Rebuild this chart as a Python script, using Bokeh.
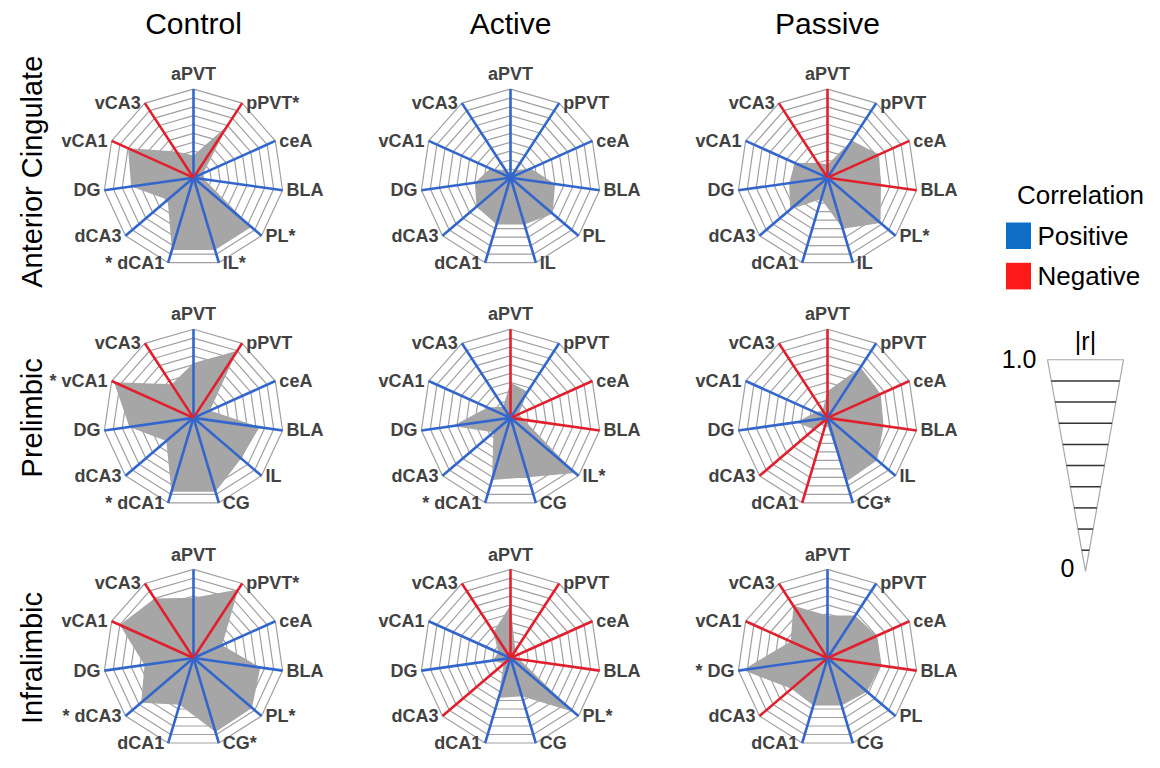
import numpy as np
from bokeh.plotting import figure
from bokeh.models import Range1d
from bokeh.embed import file_html
from bokeh.resources import INLINE
from bokeh.core.properties import value

# ---------------- data ----------------
groups = ["Control", "Active", "Passive"]
regions = ["Anterior Cingulate", "Prelimbic", "Infralimbic"]

acc_labels = ["aPVT", "pPVT", "ceA", "BLA", "PL", "IL", "dCA1", "dCA3", "DG", "vCA1", "vCA3"]
pl_labels = ["aPVT", "pPVT", "ceA", "BLA", "IL", "CG", "dCA1", "dCA3", "DG", "vCA1", "vCA3"]
il_labels = ["aPVT", "pPVT", "ceA", "BLA", "PL", "CG", "dCA1", "dCA3", "DG", "vCA1", "vCA3"]

# signed correlation r (sign -> spoke colour, |r| -> grey area)
acc_control = [0.25, -0.70, 0.12, 0.12, 0.85, 0.85, 0.85, 0.38, 0.70, -0.80, -0.35]
acc_active = [0.05, 0.10, 0.25, 0.50, 0.62, 0.55, 0.55, 0.50, 0.40, 0.25, 0.10]
acc_passive = [-0.15, 0.50, -0.63, -0.60, 0.78, 0.60, 0.25, 0.55, 0.43, 0.40, -0.20]

pl_control = [0.62, -0.90, 0.20, 0.74, 0.70, 0.87, 0.87, 0.40, 0.72, -0.97, -0.45]
pl_active = [-0.40, 0.35, -0.10, -0.15, 0.95, 0.70, 0.73, 0.25, 0.65, 0.28, 0.15]
pl_passive = [-0.30, 0.68, -0.65, -0.63, 0.73, 0.75, -0.05, -0.20, 0.35, 0.15, -0.10]

il_control = [0.68, -0.92, 0.35, 0.75, 0.86, 0.87, 0.55, 0.77, 0.55, -0.90, -0.80]
il_active = [-0.60, -0.10, -0.05, -0.10, 0.93, 0.45, 0.47, -0.10, 0.20, 0.15, -0.35]
il_passive = [0.48, 0.57, -0.60, -0.60, 0.58, 0.56, 0.56, -0.53, 0.95, -0.45, -0.70]

# significance stars: 0 none, 1 star after label, 2 star before label
acc_control_sig = [0, 1, 0, 0, 1, 1, 2, 0, 0, 0, 0]
acc_active_sig = [0] * 11
acc_passive_sig = [0, 0, 0, 0, 1, 0, 0, 0, 0, 0, 0]
pl_control_sig = [0, 0, 0, 0, 0, 0, 2, 0, 0, 2, 0]
pl_active_sig = [0, 0, 0, 0, 1, 0, 2, 0, 0, 0, 0]
pl_passive_sig = [0, 0, 0, 0, 0, 1, 0, 0, 0, 0, 0]
il_control_sig = [0, 1, 0, 0, 1, 1, 0, 2, 0, 0, 0]
il_active_sig = [0, 0, 0, 0, 1, 0, 0, 0, 0, 0, 0]
il_passive_sig = [0, 0, 0, 0, 0, 0, 0, 0, 2, 0, 0]

panels = [
    [(acc_labels, acc_control, acc_control_sig), (acc_labels, acc_active, acc_active_sig), (acc_labels, acc_passive, acc_passive_sig)],
    [(pl_labels, pl_control, pl_control_sig), (pl_labels, pl_active, pl_active_sig), (pl_labels, pl_passive, pl_passive_sig)],
    [(il_labels, il_control, il_control_sig), (il_labels, il_active, il_active_sig), (il_labels, il_passive, il_passive_sig)],
]

ring_levels = [0.1, 0.2, 0.3, 0.4, 0.5, 0.6, 0.7, 0.8, 0.9, 1.0]
legend_items = ["Positive", "Negative"]

# ---------------- style / layout ----------------
BLUE = "#3366cc"
RED = "#e0202e"
GREY_FILL = "#a6a6a6"
RING = "#a0a0a0"
LABEL = "#424242"
FONT = "Liberation Sans"
LFS = "18px"

col_x = [193, 510, 827]
row_y = [180, 424, 668]
R = 90

W, H = 1144, 752
p = figure(width=W, height=H, output_backend="svg", toolbar_location=None,
           x_range=Range1d(0, W), y_range=Range1d(764, 0),
           min_border=0, outline_line_color=None)
p.axis.visible = False
p.grid.visible = False
p.background_fill_color = "white"

N = 11
ang = np.arange(N) * 2 * np.pi / N


def polar(cx, cy, r, a):
    return cx + r * np.sin(a), cy - r * np.cos(a)


for ri, row in enumerate(panels):
    for ci, (labels, vals, sig) in enumerate(row):
        cx, cy = col_x[ci], row_y[ri]
        vals = np.array(vals)
        # rings
        xs, ys = [], []
        for lv in ring_levels:
            a = np.append(ang, ang[0])
            x, y = polar(cx, cy, R * lv, a)
            xs.append(list(x)); ys.append(list(y))
        p.multi_line(xs, ys, line_color=RING, line_width=1.2)
        # grey area
        x, y = polar(cx, cy, R * np.abs(vals), ang)
        p.patch(list(x), list(y), fill_color=GREY_FILL, line_color=None)
        # spokes
        ex, ey = polar(cx, cy, R, ang)
        colors = [BLUE if v >= 0 else RED for v in vals]
        p.segment(x0=[cx] * N, y0=[cy] * N, x1=list(ex), y1=list(ey),
                  line_color=colors, line_width=2.6)
        # labels
        texts = []
        for lab, s in zip(labels, sig):
            if s == 1:
                texts.append(lab + "*")
            elif s == 2:
                texts.append("* " + lab)
            else:
                texts.append(lab)
        lx, ly = polar(cx, cy, R + 15, ang)
        p.text(x=[lx[0]], y=[ly[0]], text=[texts[0]], text_align="center",
               text_baseline="middle", text_font=value(FONT), text_font_style="bold",
               text_font_size=LFS, text_color=LABEL)
        rx, ry = polar(cx, cy, R, ang)
        right = list(range(1, 6))
        left = list(range(6, 11))
        p.text(x=[rx[k] + 4 for k in right], y=[ry[k] for k in right],
               text=[texts[k] for k in right], text_align="left",
               text_baseline="middle", text_font=value(FONT), text_font_style="bold",
               text_font_size=LFS, text_color=LABEL)
        p.text(x=[rx[k] - 4 for k in left], y=[ry[k] for k in left],
               text=[texts[k] for k in left], text_align="right",
               text_baseline="middle", text_font=value(FONT), text_font_style="bold",
               text_font_size=LFS, text_color=LABEL)

# column titles
p.text(x=col_x, y=[23] * 3, text=groups, text_align="center", text_baseline="middle",
       text_font=value(FONT), text_font_size="30px", text_color="black")
# row titles
p.text(x=[31] * 3, y=[174, 424, 668], text=regions, angle=np.pi / 2, text_align="center",
       text_baseline="middle", text_font=value(FONT), text_font_size="29px",
       text_color="black")

# legend: correlation sign
p.text(x=[1080], y=[198], text=["Correlation"], text_align="center", text_baseline="middle",
       text_font=value(FONT), text_font_size="26px", text_color="black")
sq_y = [239, 280]
p.rect(x=[1018, 1018], y=sq_y, width=25, height=27, fill_color=["#0f6ec6", "#ff1a1a"],
       line_color=None)
p.text(x=[1037, 1037], y=sq_y, text=legend_items, text_align="left", text_baseline="middle",
       text_font=value(FONT), text_font_size="26px", text_color="black")

# legend: |r| scale
tx, top_y, apex_y, half = 1085, 365, 580, 38
p.patch([tx - half, tx + half, tx], [top_y, top_y, apex_y], fill_color="white",
        line_color="#a8a8a8", line_width=1.2)
lv = np.array(ring_levels[:-1])
yy = apex_y - (apex_y - top_y) * lv
p.segment(x0=list(tx - half * lv), y0=list(yy), x1=list(tx + half * lv), y1=list(yy),
          line_color="#333333", line_width=1.5)
p.text(x=[tx], y=[346], text=["|r|"], text_align="center", text_baseline="middle",
       text_font=value(FONT), text_font_size="25px", text_color="black")
p.text(x=[1036], y=[364], text=["1.0"], text_align="right", text_baseline="middle",
       text_font=value(FONT), text_font_size="25px", text_color="black")
p.text(x=[1067], y=[577], text=["0"], text_align="center", text_baseline="middle",
       text_font=value(FONT), text_font_size="25px", text_color="black")

open("out.html", "w").write(file_html(p, INLINE))
